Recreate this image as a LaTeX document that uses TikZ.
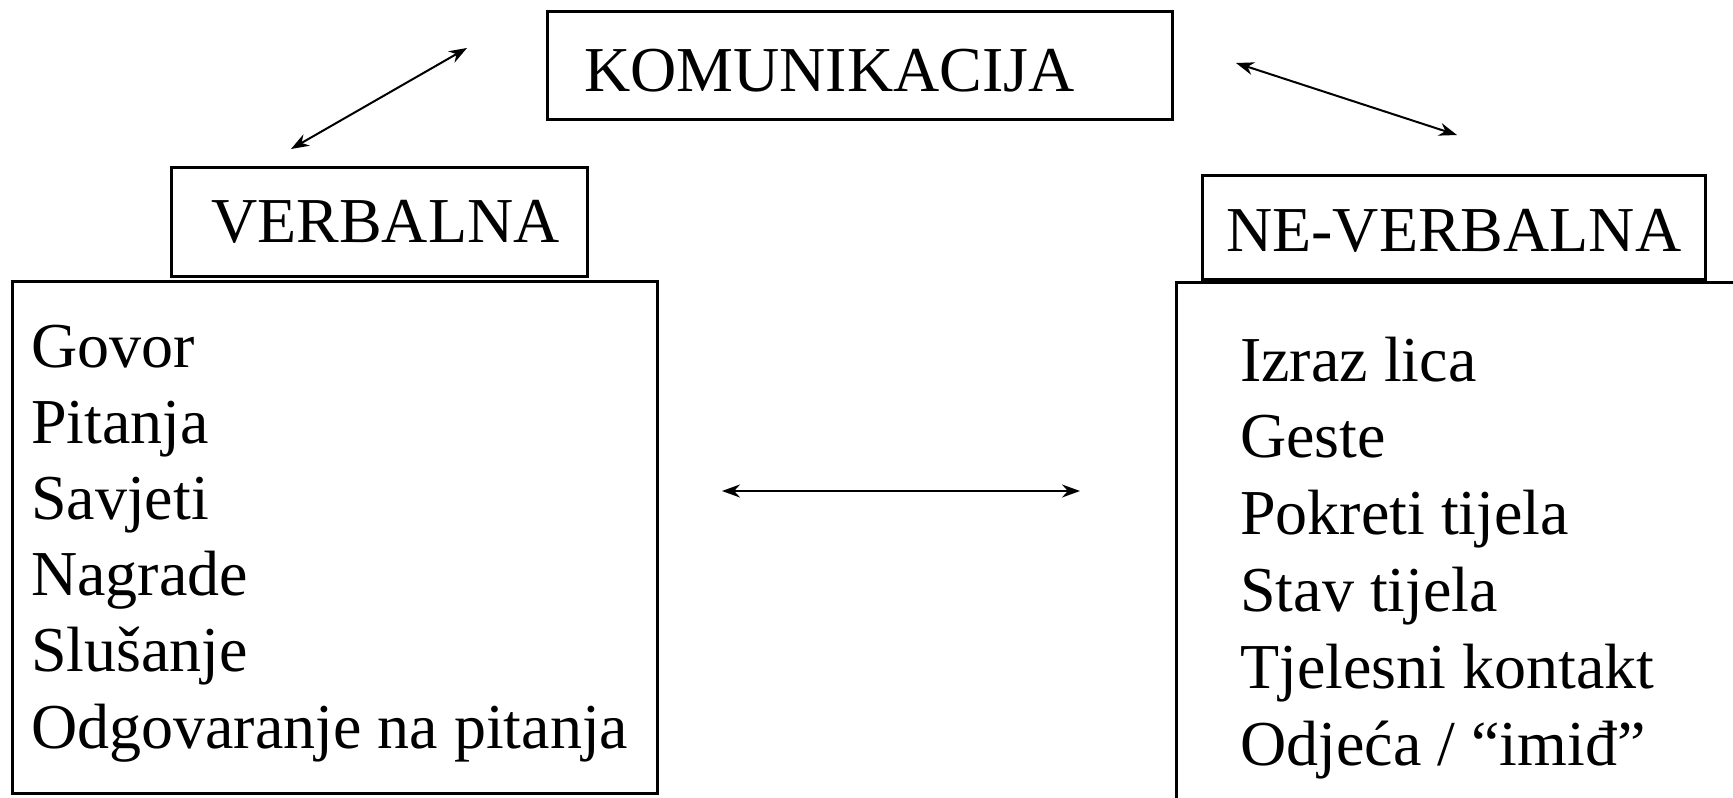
\documentclass[tikz,border=0pt]{standalone}
\usepackage{fontspec}
\setmainfont{Liberation Serif}
\usetikzlibrary{arrows.meta}

\tikzset{
  frame/.style={draw, line width=2.5pt, inner sep=0pt, anchor=north west},
  txt/.style={anchor=base west, inner sep=0pt, font=\fontsize{64}{76}\selectfont},
  link/.style={{Stealth[length=18pt,width=13pt]}-{Stealth[length=18pt,width=13pt]}, line width=2pt}
}

\begin{document}
\begin{tikzpicture}[x=1pt,y=-1pt]

  \useasboundingbox (0,0) rectangle (1733,798);
  \clip (0,0) rectangle (1733,798);

  % frames
  \node[frame, minimum width=625pt, minimum height=108pt] (kom)    at (546,10)  {};
  \node[frame, minimum width=416pt, minimum height=109pt] (verb)   at (170,166) {};
  \node[frame, minimum width=503pt, minimum height=104pt] (neverb) at (1201,174) {};
  \node[frame, minimum width=645pt, minimum height=512pt] (vlist)  at (11,280)  {};
  \node[frame, minimum width=600pt, minimum height=560pt] (nlist)  at (1175,281) {};

  % headings
  \node[txt] (komtxt)    at (584,91)  {KOMUNIKACIJA};
  \node[txt] (verbtxt)   at (211,242) {VERBALNA};
  \node[txt] (neverbtxt) at (1226,251) {NE-VERBALNA};

  % lists
  \foreach \t [count=\i] in {Govor, Pitanja, Savjeti, Nagrade, Slušanje, Odgovaranje na pitanja}
    \node[txt] (v\i) at (31,{367+76.2*(\i-1)}) {\t};
  \foreach \t [count=\i] in {Izraz lica, Geste, Pokreti tijela, Stav tijela, Tjelesni kontakt, Odjeća / “imiđ”}
    \node[txt] (n\i) at (1240,{381+76.8*(\i-1)}) {\t};

  % arrows
  \coordinate (a1) at (467,48);
  \coordinate (b1) at (291,149);
  \coordinate (a2) at (1236,63);
  \coordinate (b2) at (1457,135);
  \coordinate (a3) at (722,491);
  \coordinate (b3) at (1080,491);
  \draw[link] (a1) -- (b1);
  \draw[link] (a2) -- (b2);
  \draw[link] (a3) -- (b3);

\end{tikzpicture}
\end{document}
